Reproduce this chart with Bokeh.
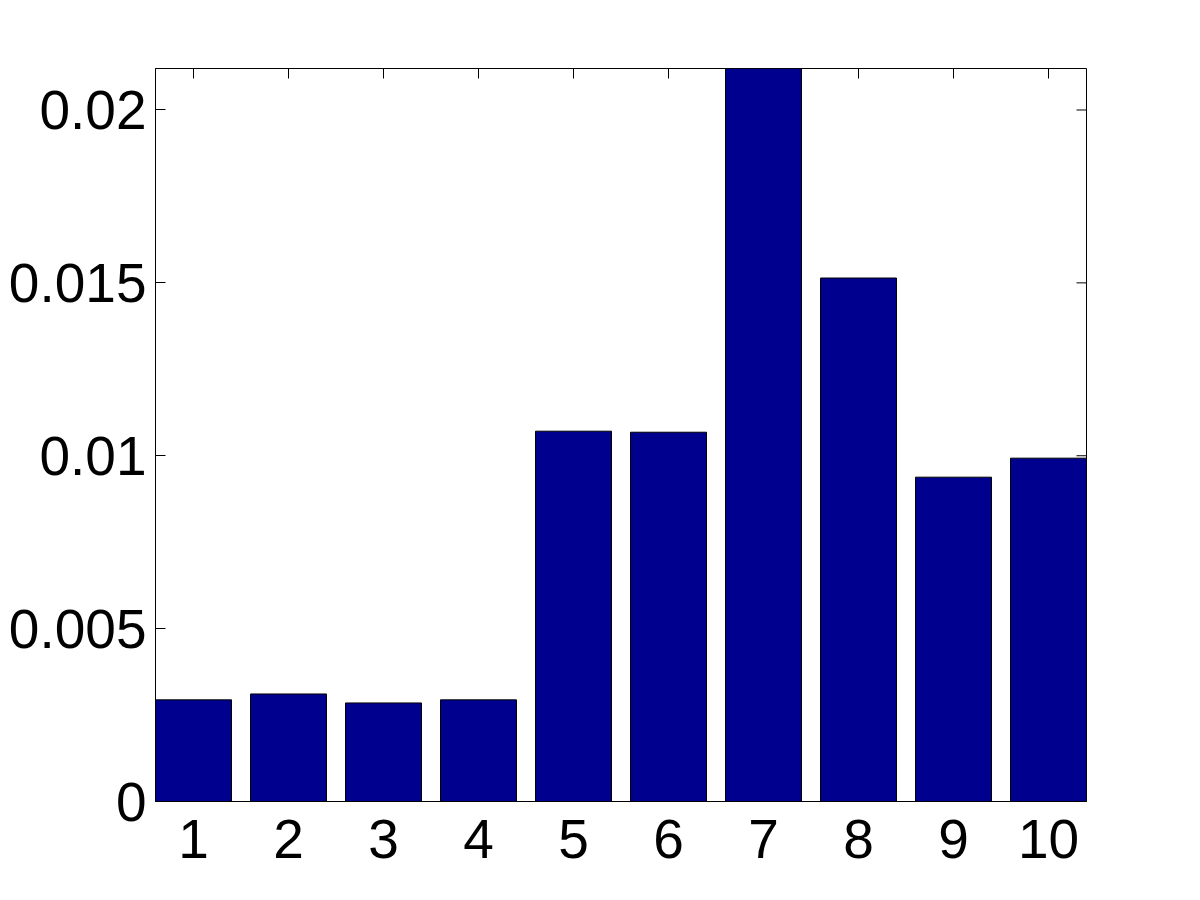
import math
from bokeh.plotting import figure
from bokeh.models import LinearAxis, FixedTicker, Range1d, ColumnDataSource
from bokeh.embed import file_html
from bokeh.resources import INLINE

categories = [1, 2, 3, 4, 5, 6, 7, 8, 9, 10]
values = [0.00294, 0.00311, 0.00285, 0.00294, 0.01071, 0.01068, 0.0212, 0.01514, 0.00938, 0.00993]
y_ticks = [0, 0.005, 0.01, 0.015, 0.02]
y_tick_labels = ["0", "0.005", "0.01", "0.015", "0.02"]
x_lim = (0.6, 10.4)
y_lim = (0, 0.0212)

FONT = "Liberation Sans"
FS = "55px"

src = ColumnDataSource(dict(x=categories, top=values))

p = figure(output_backend="svg", toolbar_location=None,
           frame_width=931, frame_height=733,
           min_border_left=155, min_border_top=68, min_border_right=95, min_border_bottom=91,
           x_range=Range1d(*x_lim), y_range=Range1d(*y_lim),
           x_axis_location=None, y_axis_location=None)

# inward tick marks on the top and right edges of the box (drawn under the bars)
p.scatter(x=categories, y=[y_lim[1]] * len(categories), marker="dash", size=20,
          angle=math.pi / 2, line_color="black", line_width=1)
p.scatter(x=[x_lim[1]] * len(y_ticks), y=y_ticks, marker="dash", size=20,
          line_color="black", line_width=1)

p.vbar(x="x", top="top", bottom=0, width=0.8, source=src,
       fill_color="#00008F", line_color="black", line_width=1)

p.grid.visible = False
p.outline_line_color = "black"
p.outline_line_width = 1
p.background_fill_color = "white"
p.border_fill_color = "white"

def style(ax, standoff, tick_in):
    ax.major_tick_in = tick_in
    ax.major_tick_out = 0
    ax.minor_tick_in = 0
    ax.minor_tick_out = 0
    ax.axis_line_color = "black"
    ax.major_tick_line_color = "black"
    ax.major_label_text_font = FONT
    ax.major_label_text_color = "black"
    ax.major_label_text_font_size = FS
    ax.major_label_standoff = standoff

xb = LinearAxis(ticker=FixedTicker(ticks=categories))
style(xb, 18, 0)  # bottom ticks are hidden behind the bars in the reference
p.add_layout(xb, "below")

yl = LinearAxis(ticker=FixedTicker(ticks=y_ticks))
yl.major_label_overrides = {t: l for t, l in zip(y_ticks, y_tick_labels)}
style(yl, 9, 10)
p.add_layout(yl, "left")

open("out.html", "w").write(file_html(p, INLINE))
